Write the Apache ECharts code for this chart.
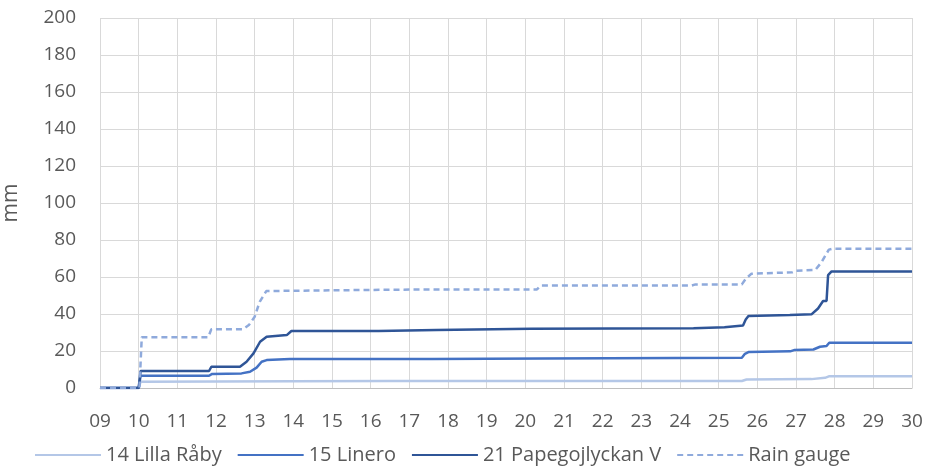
<!DOCTYPE html>
<html>
<head>
<meta charset="utf-8">
<script src="https://cdn.jsdelivr.net/npm/echarts@6/dist/echarts.min.js"></script>
<style>
html,body{margin:0;padding:0;background:#fff;}
#chart{width:928px;height:468px;}
</style>
</head>
<body>
<div id="chart"></div>
<script>
// x = day of month, y = accumulated rain (mm)
const seriesNames = ['14 Lilla Råby', '15 Linero', '21 Papegojlyckan V', 'Rain gauge'];

const lillaRaby = [
  [9, 0], [10.0, 0], [10.05, 3.4], [14, 3.6], [16.5, 3.8], [25.6, 3.8], [25.72, 4.6],
  [27.4, 4.8], [27.75, 5.5], [27.85, 6.3], [30, 6.3]
];

const linero = [
  [9, 0], [10.0, 0], [10.05, 6.6], [11.82, 6.6], [11.9, 7.6], [12.66, 7.9], [12.88, 8.8],
  [13.05, 11], [13.18, 14.2], [13.31, 15.1], [13.91, 15.7], [17.6, 15.7], [17.65, 16.0],
  [20.45, 16.0], [20.5, 16.4], [25.6, 16.4], [25.68, 18.5], [25.77, 19.4], [26.85, 19.8],
  [26.95, 20.5], [27.45, 20.8], [27.62, 22.3], [27.79, 22.7], [27.86, 24.5], [30, 24.5]
];

const papegojlyckan = [
  [9, 0], [10.0, 0], [10.05, 9.2], [11.82, 9.2], [11.88, 11.5], [12.62, 11.5], [12.79, 14.2],
  [12.97, 18.7], [13.14, 25], [13.31, 27.7], [13.83, 28.6], [13.95, 30.8], [16.2, 30.8],
  [16.25, 31.3], [17.7, 31.3], [17.75, 32.0], [20.15, 32.0], [20.2, 32.3], [24.35, 32.3],
  [24.4, 32.8], [25.15, 32.8], [25.2, 33.5], [25.63, 33.8], [25.7, 37], [25.77, 38.9],
  [26.84, 39.4], [27.4, 39.8], [27.57, 43], [27.7, 47], [27.79, 47], [27.83, 61],
  [27.92, 63], [30, 63]
];

const rainGauge = [
  [9, 0], [10.02, 0], [10.08, 27.5], [11.8, 27.5], [11.88, 31.8], [12.7, 31.8], [12.85, 34],
  [13.0, 38.5], [13.13, 46.6], [13.3, 52.4], [15, 52.8], [17.5, 53.3], [20.3, 53.3],
  [20.4, 55.4], [24.3, 55.4], [24.4, 56.0], [25.6, 56.0], [25.7, 59], [25.85, 61.8],
  [26.9, 62.5], [27.0, 63.4], [27.5, 63.8], [27.66, 68], [27.85, 74.8], [27.95, 75.3],
  [30, 75.3]
];

const xMin = 9, xMax = 30;
const yMin = 0, yMax = 200, yStep = 20;
const yAxisName = 'mm';

const colors = ['#B4C7E7', '#4472C4', '#2F5597', '#8FAADC'];
const font = '"Open Sans", sans-serif';
const textColor = '#595959';

const chart = echarts.init(document.getElementById('chart'), null, {renderer: 'canvas'});

function mkSeries(name, data, color, dashed) {
  return {
    name: name,
    type: 'line',
    data: data,
    symbol: 'none',
    showSymbol: false,
    animation: false,
    lineStyle: {color: color, width: 2.5, type: dashed ? [6, 4] : 'solid'},
    itemStyle: {color: color}
  };
}

chart.setOption({
  animation: false,
  grid: {left: 100, right: 16, top: 18, bottom: 80, containLabel: false, outerBoundsMode: 'none'},
  xAxis: {
    type: 'value', min: xMin, max: xMax, interval: 1,
    axisLine: {show: true, lineStyle: {color: '#BFBFBF', width: 1}},
    axisTick: {show: false},
    splitLine: {show: true, lineStyle: {color: '#D9D9D9', width: 1}},
    axisLabel: {
      color: textColor, fontFamily: font, fontSize: 19, margin: 24,
      formatter: v => String(Math.round(v)).padStart(2, '0')
    }
  },
  yAxis: {
    type: 'value', min: yMin, max: yMax, interval: yStep,
    name: yAxisName, nameLocation: 'middle', nameGap: 78, nameRotate: 90,
    nameTextStyle: {color: textColor, fontFamily: font, fontSize: 21},
    axisLine: {show: false},
    axisTick: {show: false},
    splitLine: {show: true, lineStyle: {color: '#D9D9D9', width: 1}},
    axisLabel: {color: textColor, fontFamily: font, fontSize: 19, margin: 24}
  },
  legend: {
    top: 445, left: 34, padding: 0, itemWidth: 66, itemHeight: 14, itemGap: 15,
    itemStyle: {opacity: 0},
    textStyle: {color: textColor, fontFamily: font, fontSize: 20},
    data: seriesNames
  },
  series: [
    mkSeries(seriesNames[0], lillaRaby, colors[0], false),
    mkSeries(seriesNames[1], linero, colors[1], false),
    mkSeries(seriesNames[2], papegojlyckan, colors[2], false),
    mkSeries(seriesNames[3], rainGauge, colors[3], true)
  ]
});
</script>
</body>
</html>
